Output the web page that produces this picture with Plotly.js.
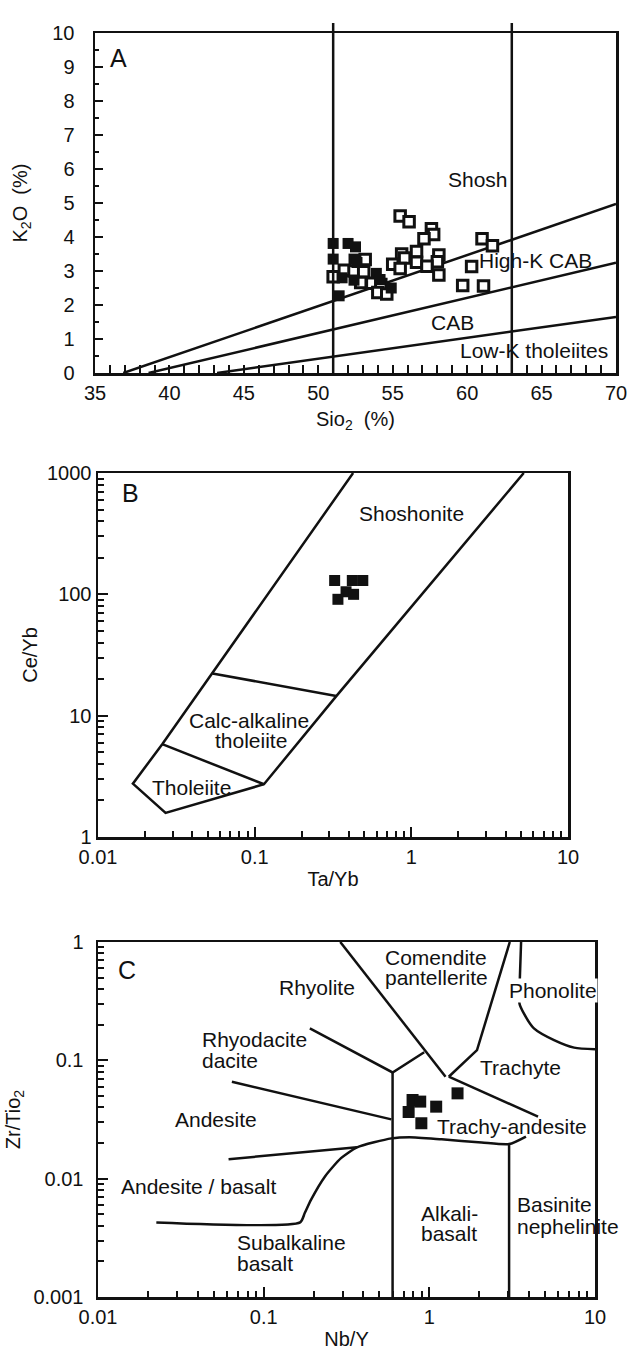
<!DOCTYPE html>
<html>
<head>
<meta charset="utf-8">
<script src="https://cdn.plot.ly/plotly-3.0.1.min.js"></script>
<style>html,body{margin:0;padding:0;background:#fff;}#chart{width:629px;height:1353px;}</style>
</head>
<body>
<div id="chart"></div>
<script>
// ---------- Panel A: K2O vs SiO2 ----------
const filledSiO2 = [51.0, 52.0, 52.5, 51.0, 52.4, 52.6, 51.4, 51.6, 52.4, 53.9, 54.15, 54.9];
const filledK2O  = [3.81, 3.81, 3.71, 3.35, 3.35, 3.25, 2.27, 2.80, 2.73, 2.93, 2.75, 2.50];
const openSiO2 = [55.5, 56.1, 57.6, 57.75, 57.1, 61.0, 61.7, 55.6, 56.6, 55.8, 56.6, 58.1, 58.0, 57.3, 55.0,
                  55.5, 58.1, 60.3, 59.7, 61.1, 51.0, 51.75, 52.4, 53.05, 53.15, 52.85, 53.6, 54.2, 54.0, 54.6];
const openK2O  = [4.62, 4.45, 4.24, 4.07, 3.95, 3.95, 3.74, 3.50, 3.57, 3.38, 3.26, 3.47, 3.27, 3.14, 3.20,
                  3.07, 2.88, 3.13, 2.57, 2.56, 2.83, 3.02, 3.00, 2.98, 3.34, 2.66, 2.64, 2.60, 2.37, 2.32];
const shoshLineX = [36.9, 70], shoshLineY = [0, 4.97];
const highKLineX = [38.6, 70], highKLineY = [0, 3.24];
const lowKLineX  = [43.2, 70], lowKLineY  = [0, 1.65];
const silicaDividers = [51, 63];
const silicaDividerLabels = ['52', '63'];
const aXTicks = [35, 40, 45, 50, 55, 60, 65, 70];
const aYTicks = [0, 1, 2, 3, 4, 5, 6, 7, 8, 9, 10];

// ---------- Panel B: Ce/Yb vs Ta/Yb ----------
const taYb = [0.324, 0.42, 0.49, 0.383, 0.428, 0.34];
const ceYb = [130, 130, 130, 105, 100, 91];
const bOutlineX = [0.425, 0.0538, 0.0257, 0.0167, 0.027, 0.1146, 0.332, 5.22];
const bOutlineY = [1000, 22.3, 5.82, 2.75, 1.58, 2.72, 14.5, 1000];
const bCross1X = [0.0538, 0.332], bCross1Y = [22.3, 14.5];
const bCross2X = [0.0257, 0.1146], bCross2Y = [5.82, 2.72];
const bXTicks = [0.01, 0.1, 1, 10], bXTickText = ['0.01', '0.1', '1', '10'];
const bYTicks = [1, 10, 100, 1000], bYTickText = ['1', '10', '100', '1000'];

// ---------- Panel C: Zr/TiO2 vs Nb/Y ----------
const nbY    = [0.792, 0.881, 1.10, 1.48, 0.75, 0.895];
const zrTiO2 = [0.0462, 0.0448, 0.0406, 0.0526, 0.0366, 0.0294];
const cRhyComX = [0.290, 1.253], cRhyComY = [1, 0.0727];
const cComPhonX = [3.06, 1.94, 1.31], cComPhonY = [1, 0.122, 0.0727];
const cTrachyX = [1.31, 4.53], cTrachyY = [0.0727, 0.0334];
const cPhonX = [3.58, 3.52, 3.50, 3.72, 4.28, 5.66, 7.48, 10], cPhonY = [1, 0.5, 0.302, 0.249, 0.186, 0.148, 0.128, 0.124];
const cRhyodacX = [0.190, 0.60, 0.931], cRhyodacY = [0.186, 0.079, 0.117];
const cAlkLeftX = [0.60, 0.60], cAlkLeftY = [0.079, 0.001];
const cAndUpX = [0.0643, 0.59], cAndUpY = [0.0659, 0.0317];
const cAndBasX = [0.0614, 0.366], cAndBasY = [0.0146, 0.0184];
const cSubalkX = [0.0225, 0.166, 0.177, 0.193, 0.234, 0.293, 0.366, 0.59, 0.759, 1.186, 2.07, 3.03, 3.83];
const cSubalkY = [0.00427, 0.00427, 0.00512, 0.00662, 0.0104, 0.0149, 0.0184, 0.0219, 0.0224, 0.0215, 0.0202, 0.0196, 0.0227];
const cBasanX = [3.03, 3.03], cBasanY = [0.0196, 0.001];
const cXTicks = [0.01, 0.1, 1, 10], cXTickText = ['0.01', '0.1', '1', '10'];
const cYTicks = [0.001, 0.01, 0.1, 1], cYTickText = ['0.001', '0.01', '0.1', '1'];

const FONT = '"Liberation Sans", Arial, Helvetica, sans-serif';
const W = 629, H = 1353;
const LW = 2.5;

// minor tick positions (2..9 within each decade) between two decade exponents
function logMinor(e0, e1) {
  const out = [];
  for (let e = e0; e < e1; e++) for (let m = 2; m <= 9; m++) out.push(m * Math.pow(10, e));
  return out;
}

function ln(x, y, xa, ya) {
  return {x: x, y: y, xaxis: xa, yaxis: ya, mode: 'lines', type: 'scatter',
          line: {color: '#111', width: LW}, hoverinfo: 'skip', showlegend: false};
}

const traces = [
  ln(shoshLineX, shoshLineY, 'x', 'y'),
  ln(highKLineX, highKLineY, 'x', 'y'),
  ln(lowKLineX, lowKLineY, 'x', 'y'),
  {x: openSiO2, y: openK2O, xaxis: 'x', yaxis: 'y', mode: 'markers', type: 'scatter', showlegend: false,
   marker: {symbol: 'square', size: 10.5, color: '#fff', line: {color: '#111', width: 3}}},
  {x: filledSiO2, y: filledK2O, xaxis: 'x', yaxis: 'y', mode: 'markers', type: 'scatter', showlegend: false,
   marker: {symbol: 'square', size: 11, color: '#111', line: {color: '#111', width: 0}}},

  ln(bOutlineX, bOutlineY, 'x2', 'y2'),
  ln(bCross1X, bCross1Y, 'x2', 'y2'),
  ln(bCross2X, bCross2Y, 'x2', 'y2'),
  {x: taYb, y: ceYb, xaxis: 'x2', yaxis: 'y2', mode: 'markers', type: 'scatter', showlegend: false,
   marker: {symbol: 'square', size: 11, color: '#111', line: {width: 0}}},

  ln(cRhyComX, cRhyComY, 'x3', 'y3'),
  ln(cComPhonX, cComPhonY, 'x3', 'y3'),
  ln(cTrachyX, cTrachyY, 'x3', 'y3'),
  Object.assign(ln(cPhonX, cPhonY, 'x3', 'y3'), {line: {color: '#111', width: LW, shape: 'spline', smoothing: 0.7}}),
  ln(cRhyodacX, cRhyodacY, 'x3', 'y3'),
  ln(cAlkLeftX, cAlkLeftY, 'x3', 'y3'),
  ln(cAndUpX, cAndUpY, 'x3', 'y3'),
  ln(cAndBasX, cAndBasY, 'x3', 'y3'),
  Object.assign(ln(cSubalkX, cSubalkY, 'x3', 'y3'), {line: {color: '#111', width: LW, shape: 'spline', smoothing: 0.6}}),
  ln(cBasanX, cBasanY, 'x3', 'y3'),
  {x: nbY, y: zrTiO2, xaxis: 'x3', yaxis: 'y3', mode: 'markers', type: 'scatter', showlegend: false,
   marker: {symbol: 'square', size: 12, color: '#111', line: {width: 0}}}
];

function px2x(p) { return p / W; }
function py2y(p) { return 1 - p / H; }

const tickFont = {family: FONT, size: 20, color: '#111'};
const titleFont = {family: FONT, size: 20, color: '#111'};
const axBase = {showline: true, linecolor: '#111', linewidth: LW, mirror: true, showgrid: false, zeroline: false,
                ticks: 'inside', tickcolor: '#111', tickwidth: 2, fixedrange: true, automargin: false, tickfont: tickFont};
function logMinorSpec(e0, e1) {
  return {tickmode: 'array', tickvals: logMinor(e0, e1), ticks: 'inside', ticklen: 6, tickwidth: 2, tickcolor: '#111', showgrid: false};
}

const layout = {
  width: W, height: H, margin: {l: 0, r: 0, t: 0, b: 0},
  paper_bgcolor: '#fff', plot_bgcolor: '#fff', showlegend: false,
  font: {family: FONT, color: '#111'},
  // Panel A
  xaxis: Object.assign({}, axBase, {domain: [px2x(95), px2x(616)], anchor: 'y', range: [35, 70],
    tickvals: aXTicks, ticklen: 8, minor: {dtick: 1, ticks: 'inside', ticklen: 8, tickwidth: 2, tickcolor: '#111', showgrid: false},
    title: {text: 'Sio<sub>2</sub>  (%)', font: titleFont, standoff: 10}}),
  yaxis: Object.assign({}, axBase, {domain: [py2y(373), py2y(33)], anchor: 'x', range: [0, 10],
    tickvals: aYTicks, ticklen: 8, ticklabelstandoff: 14, minor: {dtick: 0.5, ticks: 'inside', ticklen: 4, tickwidth: 2, tickcolor: '#111', showgrid: false},
    title: {text: 'K<sub>2</sub>O  (%)', font: titleFont, standoff: 20}}),
  // Panel B
  xaxis2: Object.assign({}, axBase, {domain: [px2x(98), px2x(568)], anchor: 'y2', type: 'log', range: [-2, 1],
    tickvals: bXTicks, ticktext: bXTickText, ticklen: 10, minor: logMinorSpec(-2, 1),
    title: {text: 'Ta/Yb', font: titleFont, standoff: 6}}),
  yaxis2: Object.assign({}, axBase, {domain: [py2y(837), py2y(473)], anchor: 'x2', type: 'log', range: [0, 3],
    tickvals: bYTicks, ticktext: bYTickText, ticklen: 10, minor: logMinorSpec(0, 3),
    title: {text: 'Ce/Yb', font: titleFont, standoff: 4}}),
  // Panel C
  xaxis3: Object.assign({}, axBase, {domain: [px2x(98), px2x(595)], anchor: 'y3', type: 'log', range: [-2, 1],
    tickvals: cXTicks, ticktext: cXTickText, ticklen: 10, minor: logMinorSpec(-2, 1),
    title: {text: 'Nb/Y', font: titleFont, standoff: 6}}),
  yaxis3: Object.assign({}, axBase, {domain: [py2y(1297), py2y(942)], anchor: 'x3', type: 'log', range: [-3, 0],
    tickvals: cYTicks, ticktext: cYTickText, ticklen: 10, ticklabelstandoff: 8, minor: logMinorSpec(-3, 0),
    title: {text: 'Zr/Tio<sub>2</sub>', font: titleFont, standoff: 8}}),
  shapes: silicaDividers.map(v => ({type: 'line', xref: 'x', yref: 'paper', x0: v, x1: v,
    y0: py2y(373), y1: py2y(23), line: {color: '#111', width: LW}})),
  annotations: []
};

const LF = 21;
function ann(text, x, y, xr, yr, opts) {
  return Object.assign({text: text, x: x, y: y, xref: xr, yref: yr, showarrow: false,
    font: {family: FONT, size: LF, color: '#111'}, xanchor: 'center', yanchor: 'middle'}, opts || {});
}
const big = {family: FONT, size: 25, color: '#111'};
const A = layout.annotations;
// Panel A labels
A.push(ann('A', 35.9, 9.26, 'x', 'y', {xanchor: 'left', font: big}));
A.push(ann('Shosh', 60.7, 5.68, 'x', 'y'));
A.push(ann('High-K CAB', 64.6, 3.32, 'x', 'y'));
A.push(ann('CAB', 59.0, 1.5, 'x', 'y'));
A.push(ann('Low-K tholeiites', 64.5, 0.67, 'x', 'y'));
A.push(ann('Basalts', 42.8, 10.49, 'x', 'y'));
A.push(ann(silicaDividerLabels[0], silicaDividers[0], 10.55, 'x', 'y'));
A.push(ann('Andesites', 57.1, 10.49, 'x', 'y'));
A.push(ann(silicaDividerLabels[1], silicaDividers[1], 10.55, 'x', 'y'));
A.push(ann('Dacites', 66.6, 10.49, 'x', 'y'));
// Panel B labels (log10 positions)
A.push(ann('B', -1.795, 2.835, 'x2', 'y2', {font: big}));
A.push(ann('Shoshonite', 0.0, 2.664, 'x2', 'y2'));
A.push(ann('Calc-alkaline', -1.038, 0.963, 'x2', 'y2'));
A.push(ann('tholeiite', -1.023, 0.798, 'x2', 'y2'));
A.push(ann('Tholeiite', -1.402, 0.407, 'x2', 'y2'));
// Panel C labels (log10 positions)
A.push(ann('C', -1.823, -0.239, 'x3', 'y3', {font: big}));
A.push(ann('Comendite', -0.278, -0.132, 'x3', 'y3', {xanchor: 'left'}));
A.push(ann('pantellerite', -0.278, -0.304, 'x3', 'y3', {xanchor: 'left'}));
A.push(ann('Rhyolite', -0.678, -0.385, 'x3', 'y3'));
A.push(ann('Phonolite', 0.474, -0.413, 'x3', 'y3', {xanchor: 'left', bgcolor: '#fff', borderpad: 0}));
A.push(ann('Rhyodacite', -1.386, -0.824, 'x3', 'y3', {xanchor: 'left'}));
A.push(ann('dacite', -1.386, -1.004, 'x3', 'y3', {xanchor: 'left'}));
A.push(ann('Trachyte', 0.549, -1.063, 'x3', 'y3'));
A.push(ann('Andesite', -1.285, -1.504, 'x3', 'y3'));
A.push(ann('Trachy-andesite', 0.498, -1.560, 'x3', 'y3'));
A.push(ann('Andesite / basalt', -1.394, -2.066, 'x3', 'y3'));
A.push(ann('Alkali-', -0.060, -2.291, 'x3', 'y3', {xanchor: 'left'}));
A.push(ann('basalt', -0.060, -2.460, 'x3', 'y3', {xanchor: 'left'}));
A.push(ann('Basinite', 0.518, -2.221, 'x3', 'y3', {xanchor: 'left'}));
A.push(ann('nephelinite', 0.518, -2.404, 'x3', 'y3', {xanchor: 'left'}));
A.push(ann('Subalkaline', -1.175, -2.539, 'x3', 'y3', {xanchor: 'left'}));
A.push(ann('basalt', -1.175, -2.719, 'x3', 'y3', {xanchor: 'left'}));

Plotly.newPlot('chart', traces, layout, {staticPlot: true, displayModeBar: false});
</script>
</body>
</html>
